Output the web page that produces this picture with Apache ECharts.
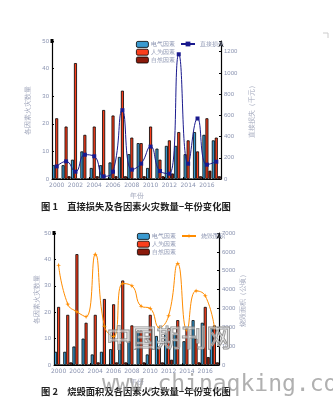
<!DOCTYPE html>
<html><head><meta charset="utf-8">
<script src="https://cdn.jsdelivr.net/npm/echarts@6/dist/echarts.min.js"></script>
<style>html,body{margin:0;padding:0;background:#fff}#c{width:333px;height:400px}</style>
</head><body><div id="c"></div>
<script>
const years = ['2000','2001','2002','2003','2004','2005','2006','2007','2008','2009','2010','2011','2012','2013','2014','2015','2016','2017'];
const electric = [5,5,7,10,4,5,6,8,9,13,4,11,12,12,9,17,16,14];
const human = [22,19,42,16,19,25,23,32,15,13,19,7,14,17,14,10,22,15];
const natural = [0,1,0,0,1,0,1,1,0,1,0,1,2,0,0,1,3,1];
const directLoss = [119,166,69,229,214,25,69,648,88,145,305,75,50,1175,144,570,135,163];
const burnedArea = [5290,3230,2820,2560,5870,2060,1500,4320,4200,3120,3000,1990,2610,5380,1850,3930,3670,1980];
const leftTicks = [0,10,20,30,40,50];
const seriesNames = ['电气因素','人为因素','自然因素'];

const chart = echarts.init(document.getElementById('c'), null, {renderer:'canvas'});
const labC = '#8a93b0', nameC = '#a0a6bb', fs = 6;
const colors = ['#3a9ad0','#fb3e1c','#8b1a0b'];

function xAxis(gi){
  return {type:'category', gridIndex:gi, data:years, boundaryGap:true,
    axisLine:{lineStyle:{color:'#000',width:1}},
    axisTick:{show:true,inside:true,length:2,interval:1,lineStyle:{color:'#000'}},
    axisLabel:{interval:1,fontSize:fs,color:labC,margin:3,fontFamily:'DejaVu Sans'},
    name:'年份', nameLocation:'middle', nameGap:14, nameTextStyle:{fontSize:7,color:nameC}};
}
function yLeft(gi){
  return {type:'value', gridIndex:gi, min:0, max:50, interval:10, position:'left',
    axisLine:{show:true,lineStyle:{color:'#000',width:1.2},symbol:['none','rect'],symbolSize:[3,4]},
    axisTick:{show:true,inside:true,length:2,lineStyle:{color:'#000'}},
    splitLine:{show:false},
    axisLabel:{fontSize:fs,color:labC,margin:3},
    name:'各因素火灾数量', nameLocation:'middle', nameGap:13, nameRotate:90,
    nameTextStyle:{fontSize:7,color:nameC}};
}
function yRight(gi,max,iv,name){
  return {type:'value', gridIndex:gi, min:0, max:max, interval:iv, position:'right',
    axisLine:{show:true,lineStyle:{color:'#000',width:1.2},symbol:['none','arrow'],symbolSize:[4,6]},
    axisTick:{show:true,inside:true,length:2,lineStyle:{color:'#000'}},
    splitLine:{show:false},
    axisLabel:{fontSize:fs,color:labC,margin:3,formatter:v=> (v%iv===0? String(v):'')},
    name:name, nameLocation:'middle', nameGap:18, nameRotate:90,
    nameTextStyle:{fontSize:7,color:nameC}};
}
function bars(gi){
  const arrs=[electric,human,natural];
  return arrs.map((d,i)=>({type:'bar',name:seriesNames[i],xAxisIndex:gi,yAxisIndex:gi*2,data:d,
    barWidth:3,barGap:'0%',itemStyle:{color:colors[i],borderColor:'#000',borderWidth:0.8},z:2}));
}
const option = {
  animation:false,
  backgroundColor:'#fff',
  grid:[{left:52,right:112,top:41,bottom:221},{left:54,right:114,top:233,bottom:35}],
  xAxis:[xAxis(0),xAxis(1)],
  yAxis:[yLeft(0),yRight(0,1300,200,'直接损失（千元）'),yLeft(1),yRight(1,7000,1000,'烧毁面积（公顷）')],
  legend:[
    {data:seriesNames.map(n=>({name:n})),orient:'vertical',left:136,top:41,itemWidth:12,itemHeight:6,itemGap:1,
      textStyle:{fontSize:6,color:labC,padding:[0,0,0,-2]},padding:0,selectedMode:false,
      itemStyle:{borderColor:'#000',borderWidth:0.8}},
    {data:['直接损失'],left:180,top:41,itemWidth:14,itemHeight:6,textStyle:{fontSize:6,color:labC},padding:0,selectedMode:false},
    {data:seriesNames.map(n=>({name:n})),orient:'vertical',left:137,top:233,itemWidth:12,itemHeight:6,itemGap:1,
      textStyle:{fontSize:6,color:labC,padding:[0,0,0,-2]},padding:0,selectedMode:false,
      itemStyle:{borderColor:'#000',borderWidth:0.8}},
    {data:['烧毁面积'],left:181,top:233,itemWidth:14,itemHeight:6,textStyle:{fontSize:6,color:labC},padding:0,selectedMode:false}
  ],
  series:[
    ...bars(0),
    {type:'line',name:'直接损失',xAxisIndex:0,yAxisIndex:1,data:directLoss,smooth:0.5,
      symbol:'rect',symbolSize:4,lineStyle:{color:'#1a1a8e',width:1},itemStyle:{color:'#1a1a8e'},z:5},
    ...bars(1),
    {type:'line',name:'烧毁面积',xAxisIndex:1,yAxisIndex:3,data:burnedArea,smooth:0.5,
      symbol:'path://M0,-5L1.2,-1.2L5,0L1.2,1.2L0,5L-1.2,1.2L-5,0L-1.2,-1.2Z',symbolSize:5,
      lineStyle:{color:'#ff8c00',width:1},itemStyle:{color:'#ff8c00'},z:5}
  ],
  graphic:[
    {type:'text',left:41,top:202,style:{text:'图 1　直接损失及各因素火灾数量−年份变化图',fontSize:9.3,fontWeight:'bold',fill:'#222',fontFamily:'Noto Sans CJK SC'}},
    {type:'text',left:41,top:387,style:{text:'图 2　烧毁面积及各因素火灾数量−年份变化图',fontSize:9.3,fontWeight:'bold',fill:'#222',fontFamily:'Noto Sans CJK SC'},z:1},
    {type:'text',left:106,top:324,z:100,style:{text:'中国期刊网',fontSize:25,fill:'rgba(255,255,255,0.35)',stroke:'#8a8a8a',lineWidth:1.2,fontFamily:'Noto Sans CJK SC'}},
    {type:'text',left:102,top:374,z:100,style:{text:'www.chinaqking.com',fontSize:23,fill:'rgba(150,150,150,0.75)',fontFamily:'DejaVu Sans Mono'}},
    {type:'polyline',shape:{points:[[323,33],[328,33],[328,38]]},style:{stroke:'#ccc',lineWidth:1,fill:null}}
  ]
};
chart.setOption(option);
</script></body></html>
